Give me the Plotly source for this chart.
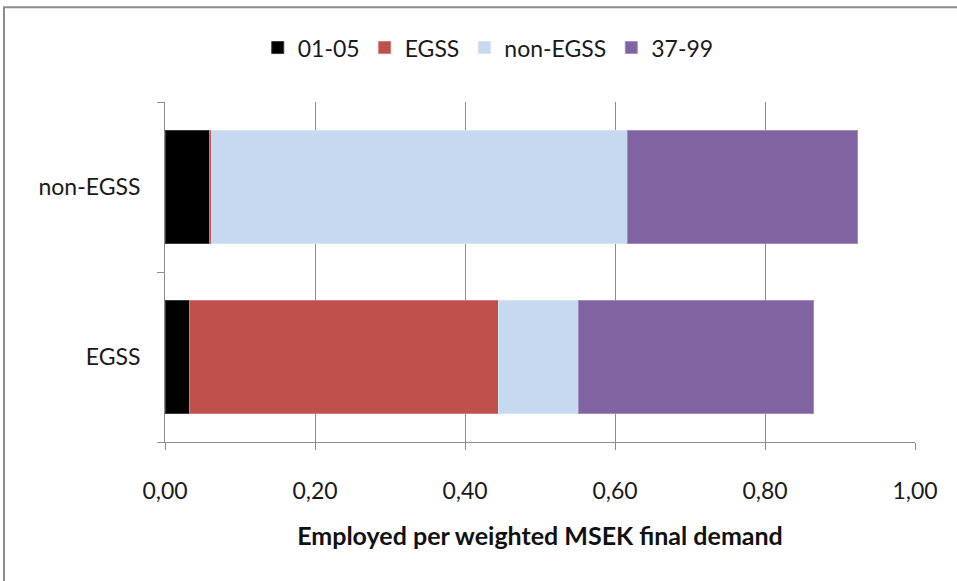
import plotly.graph_objects as go

# Employment per weighted MSEK of final demand, split by supplying sector
categories = ["EGSS", "non-EGSS"]
series_names = ["01-05", "EGSS", "non-EGSS", "37-99"]
series_values = {
    "01-05":    [0.032, 0.059],
    "EGSS":     [0.413, 0.003],
    "non-EGSS": [0.106, 0.554],
    "37-99":    [0.313, 0.307],
}
series_colors = {
    "01-05": "#000000",
    "EGSS": "#C0504D",
    "non-EGSS": "#C6D9F1",
    "37-99": "#8064A2",
}
edge_colors = {
    "01-05": "#3a3a3a",
    "EGSS": "#d27a77",
    "non-EGSS": "#d5e3f4",
    "37-99": "#a28cc0",
}
x_ticks = [0, 0.2, 0.4, 0.6, 0.8, 1.0]

FONT = "Lato"
TXT = "#1a1a1a"
GRID = "#8c8c8c"

fig = go.Figure()
for name in series_names:
    fig.add_trace(go.Bar(
        y=categories,
        x=series_values[name],
        name=name,
        orientation="h",
        marker=dict(color=series_colors[name],
                    line=dict(color=edge_colors[name], width=1)),
    ))

fig.update_layout(
    barmode="stack",
    bargap=0.33,
    width=957,
    height=581,
    margin=dict(l=165, r=42, t=102, b=139),
    paper_bgcolor="white",
    plot_bgcolor="white",
    separators=",.",
    font=dict(family=FONT, size=23, color=TXT),
    showlegend=True,
    legend=dict(
        orientation="h",
        x=0.431, xanchor="center",
        y=1.16, yanchor="middle",
        font=dict(family=FONT, size=23, color=TXT),
        traceorder="normal",
        itemwidth=30,
    ),
    xaxis=dict(
        range=[0, 1],
        tickvals=x_ticks,
        tickformat=".2f",
        showgrid=True,
        gridcolor=GRID,
        gridwidth=1,
        showline=True,
        linecolor=GRID,
        linewidth=1,
        ticks="outside",
        ticklen=7,
        tickcolor=GRID,
        ticklabelstandoff=21,
        zeroline=False,
        tickfont=dict(family=FONT, size=23, color=TXT),
        title=dict(text="<b>Employed per weighted MSEK final demand</b>",
                   font=dict(family=FONT, size=25, color="#111111"),
                   standoff=24),
    ),
    yaxis=dict(
        type="category",
        categoryorder="array",
        categoryarray=categories,
        showline=True,
        linecolor=GRID,
        linewidth=1,
        ticks="outside",
        tickson="boundaries",
        ticklen=7,
        tickcolor=GRID,
        ticklabelstandoff=19,
        showgrid=False,
        tickfont=dict(family=FONT, size=23, color=TXT),
    ),
)

# Chart-area frame
fig.add_shape(
    type="rect", xref="paper", yref="paper",
    x0=-0.2147, x1=1.07, y0=-0.43, y1=1.279,
    line=dict(color="#8c8c8c", width=2),
    fillcolor="rgba(0,0,0,0)", layer="below",
)

fig.write_html("out.html")
